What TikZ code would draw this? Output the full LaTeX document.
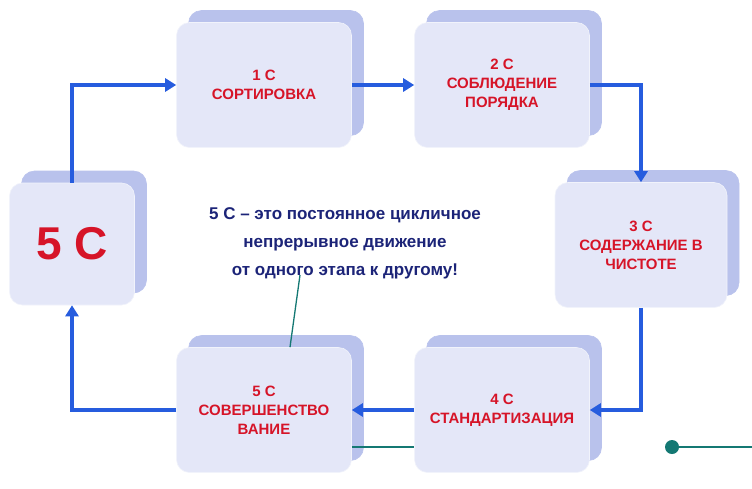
\documentclass[tikz,border=0pt]{standalone}
\usepackage{fontspec}
\setmainfont{Liberation Sans}
\usetikzlibrary{shadows,arrows.meta}
\definecolor{faceblue}{RGB}{228,231,248}
\definecolor{sideblue}{RGB}{185,194,236}
\definecolor{flowblue}{RGB}{38,92,222}
\definecolor{stagered}{RGB}{214,20,40}
\definecolor{navytext}{RGB}{28,36,120}
\definecolor{tealline}{RGB}{20,120,115}
\tikzset{
  stage/.style={draw=white!80!sideblue, line width=0.6pt, fill=faceblue, rounded corners=13pt,
    minimum width=175pt, minimum height=125pt, align=center,
    font=\bfseries\fontsize{15}{19}\selectfont, text=stagered,
    copy shadow={shadow xshift=12pt, shadow yshift=12pt, fill=sideblue, draw=sideblue}},
  flow/.style={flowblue, line width=3.5pt, -{Triangle[length=11pt,width=13pt]}},
  link/.style={tealline, line width=1.3pt}
}
\begin{document}
\begin{tikzpicture}[x=1pt,y=-1pt]
  \useasboundingbox (0,0) rectangle (752,488);

  \node[stage] at (264, 85) (s1) {1 С\\СОРТИРОВКА};
  \node[stage] at (502, 85) (s2) {2 С\\СОБЛЮДЕНИЕ\\ПОРЯДКА};
  \node[stage, minimum width=172pt] at (641, 245) (s3) {3 С\\СОДЕРЖАНИЕ В\\ЧИСТОТЕ};
  \node[stage] at (502, 410) (s4) {4 С\\СТАНДАРТИЗАЦИЯ};
  \node[stage] at (264, 410) (s5) {5 С\\СОВЕРШЕНСТВО\\ВАНИЕ};
  \node[stage, minimum width=125pt, minimum height=122pt,
    font=\bfseries\fontsize{46}{52}\selectfont] at (72, 244) (s0) {5 С};

  \node[align=center, text=navytext, font=\bfseries\fontsize{17}{28}\selectfont]
    at (345, 243) (motto) {5 С – это постоянное цикличное\\непрерывное движение\\от одного этапа к другому!};

  \coordinate (mottofoot) at (300, 275);
  \coordinate (dot) at (672, 447);
  \coordinate (edge) at (752, 447);

  \draw [link] ([yshift=-37pt]s5.east) -- ([yshift=-37pt]s4.west);

  \draw [flow] (s1.east) -- (s2.west);
  \draw [flow] (s2.east) -| (s3.north);
  \draw [flow] (s3.south) |- (s4.east);
  \draw [flow] (s4.west) -- (s5.east);
  \draw [flow] (s5.west) -| (s0.south);
  \draw [flow] (s0.north) |- (s1.west);

  \draw [link] (mottofoot) -- ([xshift=26pt]s5.north);
  \draw [link] (dot) -- (edge);
  \fill [tealline] (dot) circle (7pt);

\end{tikzpicture}
\end{document}
